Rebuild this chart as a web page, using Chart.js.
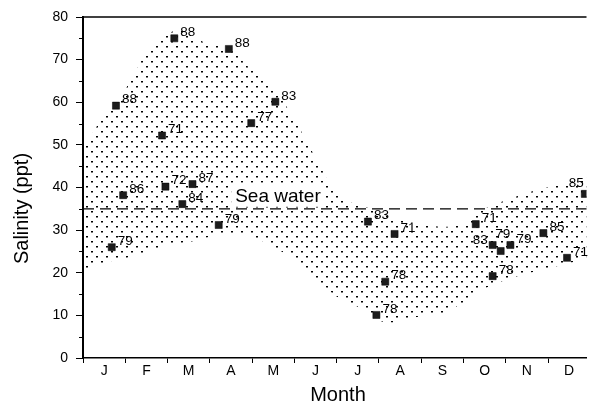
<!DOCTYPE html>
<html>
<head>
<meta charset="utf-8">
<script src="https://cdn.jsdelivr.net/npm/chart.js@4.4.1/dist/chart.umd.min.js"></script>
<style>
  html, body { margin: 0; padding: 0; background: #fff; }
  #wrap { width: 592px; height: 405px; }
</style>
</head>
<body>
<div id="wrap"><canvas id="chart" width="592" height="405"></canvas></div>
<script>
// month letters, placed at mid-month (x = 0.5 .. 11.5)
const months = ["J", "F", "M", "A", "M", "J", "J", "A", "S", "O", "N", "D"];

// salinity samples: x in months from 1 Jan, y in ppt, label = year
const ptX = [0.78, 0.95, 0.68, 1.87, 1.95, 2.59, 2.35, 2.16, 3.45, 3.21, 3.98, 4.55,
  6.74, 7.37, 7.15, 6.94, 9.29, 9.69, 9.88, 10.11, 9.69, 10.89, 11.45, 11.87];
const ptY = [59.2, 38.2, 26.0, 52.2, 40.2, 40.8, 36.1, 75.0, 72.5, 31.2, 55.1, 60.1,
  32.0, 29.1, 17.9, 10.1, 31.4, 26.5, 25.1, 26.5, 19.2, 29.3, 23.5, 38.5];
const ptYear = ["88", "86", "79", "71", "72", "87", "84", "88", "88", "79", "77", "83",
  "83", "71", "78", "78", "71", "83", "79", "79", "78", "85", "71", "85"];
const ptSide = ["r", "r", "r", "r", "r", "r", "r", "r", "r", "r", "r", "r",
  "r", "r", "r", "r", "r", "l", "u", "r", "r", "r", "r", "ul"];

// envelope of the stippled band
const upperX = [0, 0.5, 1, 1.5, 2, 2.3, 2.6, 3, 3.4, 4, 4.5, 5, 5.5, 6, 6.5, 7, 7.5, 8, 8.5, 9, 9.5, 10, 10.5, 11, 11.5, 12];
const upperY = [49, 57, 63, 71.5, 76, 77, 75.5, 73.5, 72.8, 67.5, 63.3, 56, 47, 38.5, 36, 34.5, 32.5, 31.5, 30.8, 31.5, 35, 37, 38.7, 40.1, 41.3, 42.5];
const lowerX = [0, 0.5, 1, 1.5, 2, 2.5, 3, 3.5, 4, 4.5, 5, 5.5, 6, 6.5, 7, 7.3, 7.6, 8, 8.5, 9, 9.5, 10, 10.5, 11, 11.5, 12];
const lowerY = [20.5, 22.3, 23.4, 24.7, 26.5, 27.2, 28.4, 28.9, 28.4, 26.1, 23, 18.8, 14.4, 12, 8.8, 8.3, 9, 9.8, 10.5, 13, 16.3, 18.3, 19.8, 21, 22.3, 23.3];

const seaWater = 35;

const FONT = "'Liberation Sans', Arial, Helvetica, sans-serif";

function toPoints(xs, ys) {
  let out = [];
  for (let i = 0; i < xs.length; i++) out.push({ x: xs[i], y: ys[i] });
  return out;
}

function dotPattern() {
  const c = document.createElement("canvas");
  c.width = 10; c.height = 10;
  const g = c.getContext("2d");
  g.fillStyle = "#000";
  g.fillRect(1, 1, 2, 1.5);
  g.fillRect(6, 6, 2, 1.5);
  return g.createPattern(c, "repeat");
}

// frame extras, year labels, sea water text and axis titles
const decor = {
  id: "decor",
  afterDatasetsDraw(chart) {
    const ctx = chart.ctx;
    const a = chart.chartArea;
    const xs = chart.scales.x, ys = chart.scales.y;
    ctx.save();

    // top border
    ctx.strokeStyle = "#000";
    ctx.lineWidth = 1.5;
    ctx.beginPath();
    ctx.moveTo(a.left, a.top);
    ctx.lineTo(a.right, a.top);
    ctx.stroke();

    // minor y ticks every 5
    ctx.lineWidth = 1;
    for (let v = 5; v < 80; v += 10) {
      const py = Math.round(ys.getPixelForValue(v)) + 0.5;
      ctx.beginPath();
      ctx.moveTo(a.left - 4, py);
      ctx.lineTo(a.left, py);
      ctx.stroke();
    }

    // sea water label with white box
    const lx = xs.getPixelForValue(3.6);
    const ly = ys.getPixelForValue(seaWater) - 7;
    ctx.font = "19px " + FONT;
    const w = ctx.measureText("Sea water").width;
    ctx.fillStyle = "#fff";
    ctx.fillRect(lx - 4, ly - 19, w + 8, 24);
    ctx.fillStyle = "#000";
    ctx.textBaseline = "alphabetic";
    ctx.textAlign = "left";
    ctx.fillText("Sea water", lx, ly);

    // year labels
    const meta = chart.getDatasetMeta(0);
    ctx.font = "13.5px " + FONT;
    ctx.textBaseline = "middle";
    for (let i = 0; i < meta.data.length; i++) {
      const p = meta.data[i];
      let tx = p.x + 6, ty = p.y - 6;
      ctx.textAlign = "left";
      if (ptSide[i] === "l") { tx = p.x - 5; ctx.textAlign = "right"; ty = p.y - 5; }
      if (ptSide[i] === "u") { tx = p.x + 2; ctx.textAlign = "center"; ty = p.y - 17; }
      if (ptSide[i] === "ul") { tx = p.x - 1; ctx.textAlign = "right"; ty = p.y - 11; }
      ctx.fillText(ptYear[i], tx, ty);
    }

    // axis titles
    ctx.font = "20px " + FONT;
    ctx.textAlign = "center";
    ctx.textBaseline = "middle";
    ctx.fillText("Month", (a.left + 510 / 2), a.bottom + 37);
    ctx.translate(22, (a.top + a.bottom) / 2 + 21);
    ctx.rotate(-Math.PI / 2);
    ctx.fillText("Salinity (ppt)", 0, 0);
    ctx.restore();
  }
};

const xMax = 11.91;

new Chart(document.getElementById("chart"), {
  type: "scatter",
  data: {
    datasets: [
      {
        label: "samples",
        data: toPoints(ptX, ptY),
        pointStyle: "rect",
        pointRadius: 5,
        backgroundColor: "#1c1c1c",
        borderColor: "#000",
        borderWidth: 0.5
      },
      {
        type: "line",
        label: "sea water",
        data: [{ x: 0, y: seaWater }, { x: 12, y: seaWater }],
        borderColor: "#000",
        borderWidth: 1.3,
        borderDash: [11, 6],
        pointRadius: 0,
        fill: false
      },
      {
        type: "line",
        label: "upper",
        data: toPoints(upperX, upperY),
        borderWidth: 0,
        borderColor: "rgba(0,0,0,0)",
        pointRadius: 0,
        cubicInterpolationMode: "monotone",
        fill: "+1",
        backgroundColor: dotPattern()
      },
      {
        type: "line",
        label: "lower",
        data: toPoints(lowerX, lowerY),
        borderWidth: 0,
        borderColor: "rgba(0,0,0,0)",
        pointRadius: 0,
        cubicInterpolationMode: "monotone",
        fill: false
      }
    ]
  },
  options: {
    responsive: false,
    animation: false,
    events: [],
    layout: { padding: { top: 17, right: 0, left: 0, bottom: 0 } },
    plugins: { legend: { display: false }, tooltip: { enabled: false } },
    scales: {
      x: {
        type: "linear",
        min: 0,
        max: xMax,
        afterBuildTicks(scale) {
          let t = [];
          for (let v = 0; v <= xMax; v += 0.5) t.push({ value: v });
          scale.ticks = t;
        },
        afterFit(scale) { scale.height = 47; },
        ticks: {
          autoSkip: false,
          maxRotation: 0,
          padding: 0,
          color: "#000",
          font: { family: FONT, size: 14 },
          callback(v) {
            if (v % 1 === 0.5) return months[Math.floor(v)];
            return "";
          }
        },
        grid: {
          drawOnChartArea: false,
          drawTicks: true,
          tickLength: 5,
          tickWidth: 1,
          tickColor(c) { return c.tick && c.tick.value % 1 === 0 ? "#000" : "rgba(0,0,0,0)"; }
        },
        border: { display: true, color: "#000", width: 1.5 }
      },
      y: {
        min: 0,
        max: 80,
        afterFit(scale) { scale.width = 83; },
        ticks: {
          stepSize: 10,
          padding: 8,
          color: "#000",
          font: { family: FONT, size: 14 }
        },
        grid: {
          drawOnChartArea: false,
          drawTicks: true,
          tickLength: 7,
          tickColor: "#000"
        },
        border: { display: true, color: "#000", width: 2 }
      }
    }
  },
  plugins: [decor]
});
</script>
</body>
</html>
